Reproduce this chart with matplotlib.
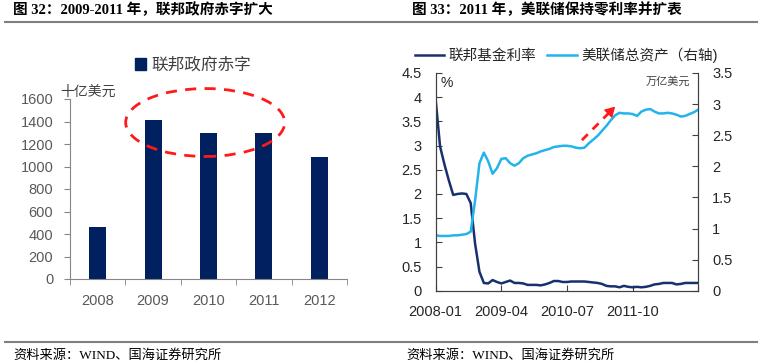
import numpy as np
import matplotlib
matplotlib.use("Agg")
import matplotlib.pyplot as plt
from matplotlib.patches import Ellipse, Patch
from matplotlib.lines import Line2D

plt.rcParams['font.family'] = ['Liberation Sans', 'Noto Sans CJK SC', 'DejaVu Sans']

# left chart data
years = ['2008', '2009', '2010', '2011', '2012']
deficit = [459, 1413, 1294, 1300, 1087]

# right chart data (monthly, 2008-01 .. 2013-01)
tick_labels = ['2008-01', '2009-04', '2010-07', '2011-10']
fed_rate = [3.94, 2.98, 2.61, 2.28, 1.98, 2.00, 2.01, 2.00, 1.81, 0.97, 0.39, 0.16,
            0.15, 0.22, 0.18, 0.15, 0.18, 0.21, 0.16, 0.16, 0.15, 0.12, 0.12, 0.12,
            0.11, 0.13, 0.16, 0.20, 0.20, 0.18, 0.18, 0.19, 0.19, 0.19, 0.19, 0.18,
            0.17, 0.16, 0.14, 0.10, 0.09, 0.09, 0.07, 0.10, 0.08, 0.07, 0.08, 0.07,
            0.08, 0.10, 0.13, 0.14, 0.16, 0.16, 0.16, 0.13, 0.14, 0.16, 0.16, 0.16, 0.16]
fed_assets = [0.89, 0.88, 0.88, 0.88, 0.89, 0.89, 0.90, 0.91, 0.95, 1.45, 2.05, 2.22,
              2.08, 1.88, 1.97, 2.12, 2.13, 2.05, 2.01, 2.05, 2.13, 2.17, 2.19, 2.21,
              2.24, 2.26, 2.28, 2.31, 2.32, 2.33, 2.33, 2.32, 2.30, 2.29, 2.30, 2.37,
              2.43, 2.49, 2.57, 2.65, 2.74, 2.82, 2.86, 2.85, 2.85, 2.84, 2.81, 2.88,
              2.91, 2.92, 2.88, 2.85, 2.85, 2.86, 2.85, 2.83, 2.80, 2.81, 2.84, 2.87, 2.91]

navy = '#002060'
rate_col = '#17306e'
asset_col = '#22b4ea'
grey_txt = '#595959'
axis_col = '#868686'
red = '#ff1a1a'

fig = plt.figure(figsize=(7.62, 3.64), dpi=100)

def fx(px):
    return px / 762

def fy(py):
    return 1 - py / 364

# titles, rules and sources
title_font = ['Liberation Serif', 'Noto Sans CJK SC']
fig.text(fx(13), fy(10), '图 32：2009-2011 年，联邦政府赤字扩大', fontsize=10.5,
         fontweight='bold', family=title_font, va='center', ha='left')
fig.text(fx(412), fy(10), '图 33：2011 年，美联储保持零利率并扩表', fontsize=10.5,
         fontweight='bold', family=title_font, va='center', ha='left')
fig.add_artist(Line2D([fx(5), fx(757)], [fy(22), fy(22)], color='#7f7f7f', lw=1.5))
fig.add_artist(Line2D([fx(5), fx(757)], [fy(342), fy(342)], color='#7f7f7f', lw=1.5))
for x0 in (13, 406):
    fig.text(fx(x0), fy(355.5), '资料来源：WIND、国海证券研究所', fontsize=9.5,
             family=title_font, va='center', ha='left')

# ---- left chart ----
ax = fig.add_axes([fx(70), fy(279), fx(277), 180 / 364])
xs = np.arange(len(years))
ax.bar(xs, deficit, width=0.31, color=navy)
ax.set_xlim(-0.5, 4.5)
ax.set_ylim(0, 1600)
ax.set_yticks(range(0, 1601, 200))
ax.set_xticks(xs)
ax.set_xticklabels(years)
ax.set_xticks(np.arange(-0.5, 4.6, 1), minor=True)
ax.tick_params(axis='x', which='major', length=0, pad=11, labelsize=10.5, labelcolor=grey_txt)
ax.tick_params(axis='x', which='minor', length=4, color=axis_col, direction='out')
ax.tick_params(axis='y', length=4, color=axis_col, direction='out', pad=8,
               labelsize=10.5, labelcolor=grey_txt)
for s in ('top', 'right'):
    ax.spines[s].set_visible(False)
for s in ('left', 'bottom'):
    ax.spines[s].set_color(axis_col)
ell = Ellipse((1.94, 1391), 2.87, 604, fill=False, edgecolor=red, lw=2,
              linestyle=(0, (4, 3)), clip_on=False)
ax.add_patch(ell)
fig.text(fx(60), fy(92), '十亿美元', fontsize=10, color='#404040', va='center', ha='left')
fig.legend(handles=[Patch(facecolor=navy, edgecolor=navy)], labels=['联邦政府赤字'],
           loc='center', bbox_to_anchor=(fx(193), fy(65)), frameon=False,
           handlelength=0.7, handleheight=0.7, handletextpad=0.3, fontsize=12,
           labelcolor='#404040')

# ---- right chart ----
ax1 = fig.add_axes([fx(435.7), fy(290.7), fx(262.6), 217.7 / 364])
ax2 = ax1.twinx()
months = np.arange(len(fed_rate))
l1, = ax1.plot(months, fed_rate, color=rate_col, lw=1.8)
l2, = ax2.plot(months, fed_assets, color=asset_col, lw=1.8)
ax1.set_xlim(0, 60)
ax1.set_ylim(0, 4.5)
ax2.set_ylim(0, 3.5)
ax1.set_yticks(np.arange(0, 4.51, 0.5))
ax1.set_yticklabels(['0', '0.5', '1', '1.5', '2', '2.5', '3', '3.5', '4', '4.5'])
ax2.set_yticks(np.arange(0, 3.51, 0.5))
ax2.set_yticklabels(['0', '0.5', '1', '1.5', '2', '2.5', '3', '3.5'])
ax1.set_xticks([0, 15, 30, 45, 60])
ax1.set_xticklabels(tick_labels + [''])
for a in (ax1, ax2):
    a.tick_params(direction='in', length=4, color='#404040', labelsize=10.5,
                  labelcolor='#262626', pad=10)
    a.spines['top'].set_visible(False)
    for s in ('left', 'right', 'bottom'):
        a.spines[s].set_color('#404040')

# dashed red arrow: dashed shaft + solid head
arr_start = (33.4, 2.42)
arr_mid = (39.6, 2.86)
arr_end = (41.0, 2.96)
ax2.plot([arr_start[0], arr_mid[0]], [arr_start[1], arr_mid[1]], color=red, lw=2,
         linestyle=(0, (3, 2.5)), solid_capstyle='butt')
ax2.annotate('', xy=arr_end, xytext=arr_mid,
             arrowprops=dict(arrowstyle='-|>,head_length=0.6,head_width=0.35',
                             color=red, lw=1, shrinkA=0, shrinkB=0))

fig.text(fx(440), fy(83), '%', fontsize=10, color='#262626', va='center', ha='left')
fig.text(fx(690), fy(82), '万亿美元', fontsize=8, color='#404040', va='center', ha='right')
fig.legend(handles=[l1, l2], labels=['联邦基金利率', '美联储总资产（右轴)'], ncol=2,
           loc='center', bbox_to_anchor=(fx(566), fy(55)), frameon=False,
           handlelength=2.0, handletextpad=0.3, columnspacing=0.8, fontsize=10.5,
           labelcolor='#262626')

fig.savefig('out.png', dpi=100)
